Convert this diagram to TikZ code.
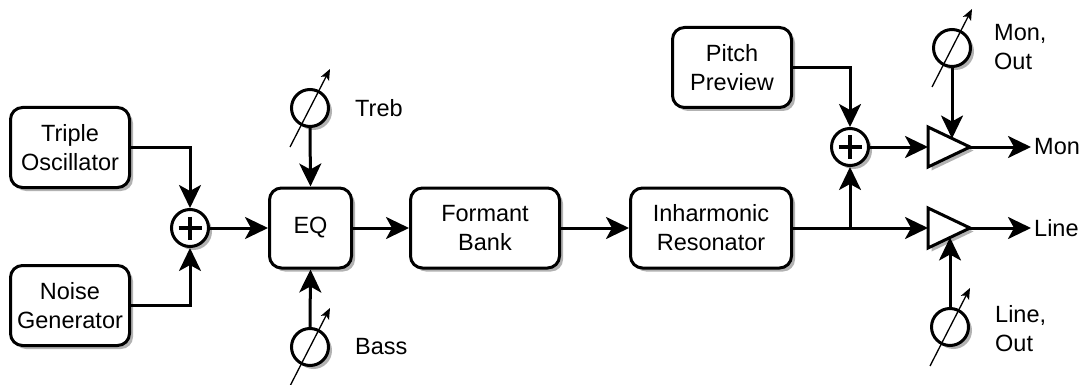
\documentclass[tikz,border=0pt]{standalone}
\usepackage{fontspec}
\setmainfont{Liberation Sans}
\usetikzlibrary{arrows.meta,shadows}
\tikzset{
  every node/.style={font=\fontsize{23.5}{29}\selectfont},
  shad/.style={drop shadow={shadow xshift=3.5pt,shadow yshift=-3.5pt,fill=black!30,opacity=1}},
  block/.style={draw,line width=3pt,rounded corners=12pt,fill=white,shad,align=center,inner sep=0pt,minimum height=80pt},
  summer/.style={draw,circle,line width=3pt,fill=white,shad,minimum size=37pt,inner sep=0pt},
  knob/.style={draw,circle,line width=3pt,fill=white,shad,minimum size=37pt,inner sep=0pt},
  wire/.style={line width=3pt},
  flow/.style={wire,-{Stealth[length=23pt,width=22pt,inset=6pt]}},
  tune/.style={line width=1.3pt,-{Stealth[length=11pt,width=9pt,inset=2.5pt]}},
  lbl/.style={align=left,inner sep=0pt,anchor=west},
  shadowfill/.style={fill=black!30},
}
\begin{document}
\begin{tikzpicture}[x=1pt,y=-1pt]
\useasboundingbox (0,0) rectangle (1081,385);

% signal blocks
\node[block,minimum width=119pt] (trip) at (70,147.5) {Triple\\Oscillator};
\node[block,minimum width=119pt] (noise) at (70,305.5) {Noise\\Generator};
\node[block,minimum width=82pt] (eq) at (310.5,228) {EQ};
\node[block,minimum width=149pt] (form) at (485,228) {Formant\\Bank};
\node[block,minimum width=161pt] (inh) at (711,228) {Inharmonic\\Resonator};
\node[block,minimum width=119pt] (pitch) at (732,67.5) {Pitch\\Preview};

% summing junctions
\node[summer] (s1) at (190,228) {};
\node[summer] (s2) at (850,147) {};
\foreach \s in {s1,s2}{
  \draw[line width=3.6pt] ([shift={(-11.5,0)}]\s.center) -- ([shift={(11.5,0)}]\s.center);
  \draw[line width=3.6pt] ([shift={(0,-11.5)}]\s.center) -- ([shift={(0,11.5)}]\s.center);
}

% level controls
\node[knob] (treb) at (310,108) {};
\node[knob] (bass) at (310,347) {};
\node[knob] (monk) at (952,48) {};
\node[knob] (linek) at (950,327) {};
\foreach \k in {treb,bass,monk,linek}{
  \draw[tune] ([shift={(-20,39)}]\k.center) -- ([shift={(20,-39)}]\k.center);
}
\node[lbl] (trebl) at (355,108) {Treb};
\node[lbl] (bassl) at (355,347) {Bass};
\node[lbl] (monkl) at (994,47.5) {Mon,\\Out};
\node[lbl] (linekl) at (995,329) {Line,\\Out};

% output amplifiers
\coordinate (mA) at (928,127); \coordinate (mB) at (928,167); \coordinate (mT) at (970,147);
\coordinate (mIn) at (928,147); \coordinate (mTop) at (952,138.5);
\coordinate (lA) at (928,208); \coordinate (lB) at (928,248); \coordinate (lT) at (970,228);
\coordinate (lIn) at (928,228); \coordinate (lBot) at (950,237.5);
\fill[shadowfill] ([shift={(3.5,3.5)}]mA) -- ([shift={(3.5,3.5)}]mT) -- ([shift={(3.5,3.5)}]mB) -- cycle;
\fill[shadowfill] ([shift={(3.5,3.5)}]lA) -- ([shift={(3.5,3.5)}]lT) -- ([shift={(3.5,3.5)}]lB) -- cycle;
\draw[wire,fill=white] (mA) -- (mT) -- (mB) -- cycle;
\draw[wire,fill=white] (lA) -- (lT) -- (lB) -- cycle;

\coordinate (monout) at (1031,147);
\coordinate (lineout) at (1031,228);
\node[lbl] (monl) at (1034,147) {Mon};
\node[lbl] (linel) at (1034,228) {Line};

% connections
\draw[flow] (trip.east) -| (s1.north);
\draw[flow] (noise.east) -| (s1.south);
\draw[flow] (s1.east) -- (eq.west);
\draw[flow] (treb.south) -- (eq.north);
\draw[flow] (bass.north) -- (eq.south);
\draw[flow] (eq.east) -- (form.west);
\draw[flow] (form.east) -- (inh.west);
\draw[flow] (inh.east) -- (lIn);
\draw[flow] (s2 |- inh.east) -- (s2.south);
\draw[flow] (pitch.east) -| (s2.north);
\draw[flow] (s2.east) -- (mIn);
\draw[flow] (monk.south) -- (mTop);
\draw[flow] (linek.north) -- (lBot);
\draw[flow] (mT) -- (monout);
\draw[flow] (lT) -- (lineout);
\end{tikzpicture}
\end{document}
